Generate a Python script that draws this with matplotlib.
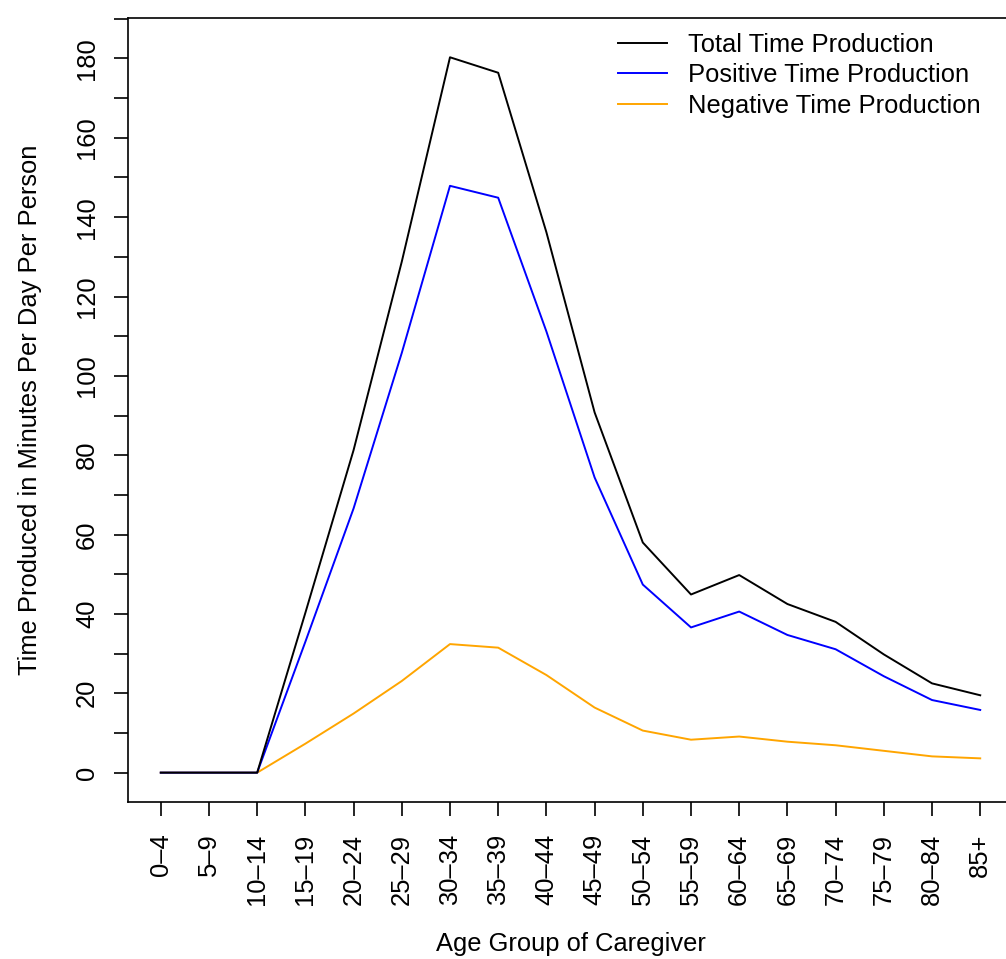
import matplotlib
matplotlib.use('Agg')
import matplotlib.pyplot as plt

matplotlib.rc('font', family=['Liberation Sans', 'DejaVu Sans'], size=18.4)

ages = ['0–4', '5–9', '10–14', '15–19', '20–24', '25–29', '30–34', '35–39',
        '40–44', '45–49', '50–54', '55–59', '60–64', '65–69', '70–74',
        '75–79', '80–84', '85+']
total = [0, 0, 0, 40.3, 81.3, 128.8, 180.3, 176.4, 136.2, 90.8, 58.0, 44.9,
         49.8, 42.5, 38.0, 29.8, 22.5, 19.5]
positive = [0, 0, 0, 33.0, 66.6, 105.8, 147.9, 144.9, 111.2, 74.4, 47.4, 36.6,
            40.6, 34.7, 31.1, 24.3, 18.3, 15.8]
negative = [0, 0, 0, 7.3, 14.9, 23.1, 32.4, 31.5, 24.6, 16.4, 10.6, 8.3,
            9.1, 7.8, 6.9, 5.5, 4.1, 3.6]

W, H = 1006, 959
fig = plt.figure(figsize=(W / 100, H / 100), dpi=100)
# plot box is wider than the picture: right edge is cut off
ax = fig.add_axes([128 / W, 1 - 802 / H, 885 / W, (802 - 18) / H])

x = list(range(1, len(ages) + 1))
ax.plot(x, total, color='black', lw=1.4, label='Total Time Production',
        zorder=4)
ax.plot(x, positive, color='blue', lw=1.4, label='Positive Time Production',
        zorder=3)
ax.plot(x, negative, color='orange', lw=1.4, label='Negative Time Production',
        zorder=2)

ax.set_xlim(0.32, 18.68)
ax.set_ylim(-7.4, 190.2)

ax.set_xticks(x)
ax.set_xticklabels(ages, rotation=90)
yt = list(range(0, 200, 10))
ax.set_yticks(yt)
ax.set_yticklabels([str(v) if v % 20 == 0 else '' for v in yt],
                   rotation=90, va='center')
# lengths in points (100 dpi -> 0.72 pt per px)
ax.tick_params(axis='both', direction='out', length=10.3, width=1.2,
               color='black')
ax.tick_params(axis='x', pad=12.5)
ax.tick_params(axis='y', pad=10.5)
for s in ax.spines.values():
    s.set_linewidth(1.2)

ax.set_xlabel('Age Group of Caregiver', labelpad=19.5)
ax.set_ylabel('Time Produced in Minutes Per Day Per Person', labelpad=24)

ax.legend(loc='upper left', bbox_to_anchor=(618 / W, 1 - 33 / H),
          bbox_transform=fig.transFigure, frameon=False, borderpad=0,
          borderaxespad=0, handlelength=1.9, handletextpad=0.85,
          labelspacing=0.25)

fig.savefig('out.png', dpi=100)
